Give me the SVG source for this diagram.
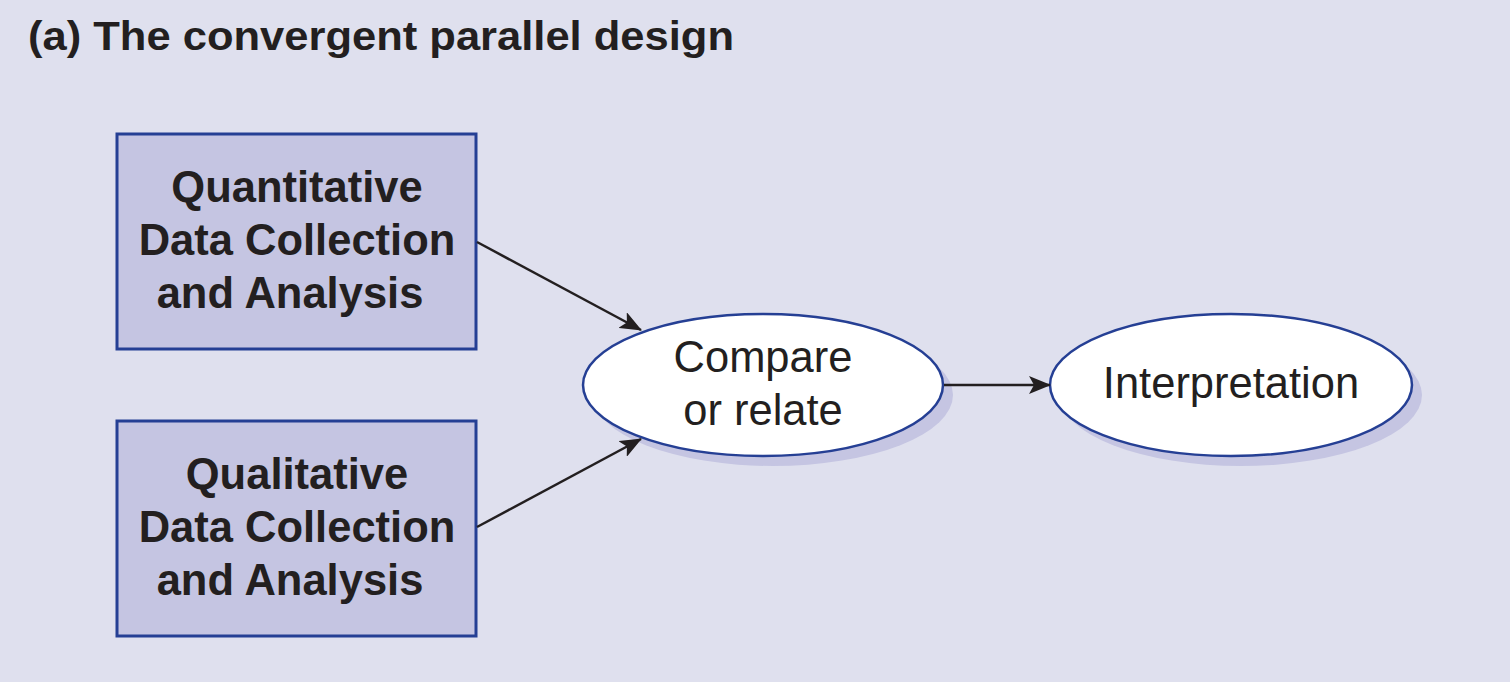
<svg xmlns="http://www.w3.org/2000/svg" width="1510" height="682" viewBox="0 0 1510 682">
<style>
.bg{fill:#dfe0ee}
.box{fill:#c5c5e2;stroke:#253f94;stroke-width:3}
.ell{fill:#ffffff;stroke:#253f94;stroke-width:2.5}
.shadow{fill:#c5c5e2}
.bt{font-family:"Liberation Sans",Arial,sans-serif;font-weight:bold;font-size:43.5px;fill:#231f20;text-anchor:middle}
.rt{font-family:"Liberation Sans",Arial,sans-serif;font-size:43.5px;fill:#231f20;text-anchor:middle}
.title{font-family:"Liberation Sans",Arial,sans-serif;font-weight:bold;font-size:40px;fill:#231f20}
.conn{stroke:#231f20;stroke-width:2.5;fill:none;marker-end:url(#ah)}
</style>
<defs>
<marker id="ah" markerWidth="22" markerHeight="18" refX="21" refY="9" orient="auto" markerUnits="userSpaceOnUse" viewBox="0 0 22 18">
<path d="M0,0 L22,9 L0,18 L5,9 Z" fill="#231f20"/>
</marker>
</defs>
<rect class="bg" x="0" y="0" width="1510" height="682"/>
<text class="title" x="28" y="50" textLength="706" lengthAdjust="spacingAndGlyphs">(a) The convergent parallel design</text>
<g id="quant">
<rect class="box" x="117" y="134" width="359" height="215"/>
<text class="bt" x="297" y="202">Quantitative</text>
<text class="bt" x="297" y="255">Data Collection</text>
<text class="bt" x="290" y="308">and Analysis</text>
</g>
<g id="qual">
<rect class="box" x="117" y="421" width="359" height="215"/>
<text class="bt" x="297" y="489">Qualitative</text>
<text class="bt" x="297" y="542">Data Collection</text>
<text class="bt" x="290" y="595">and Analysis</text>
</g>
<g id="compare">
<ellipse class="shadow" cx="773" cy="395" rx="180" ry="71"/>
<ellipse class="ell" cx="763" cy="385" rx="180" ry="71"/>
<text class="rt" x="763" y="372">Compare</text>
<text class="rt" x="763" y="425">or relate</text>
</g>
<g id="interp">
<ellipse class="shadow" cx="1241" cy="395" rx="181" ry="71"/>
<ellipse class="ell" cx="1231" cy="385" rx="181" ry="71"/>
<text class="rt" x="1231" y="398">Interpretation</text>
</g>
<g id="connectors">
<line class="conn" x1="477" y1="242" x2="641" y2="330"/>
<line class="conn" x1="477" y1="527" x2="641" y2="439"/>
<line class="conn" x1="944" y1="385" x2="1050" y2="385"/>
</g>
</svg>
